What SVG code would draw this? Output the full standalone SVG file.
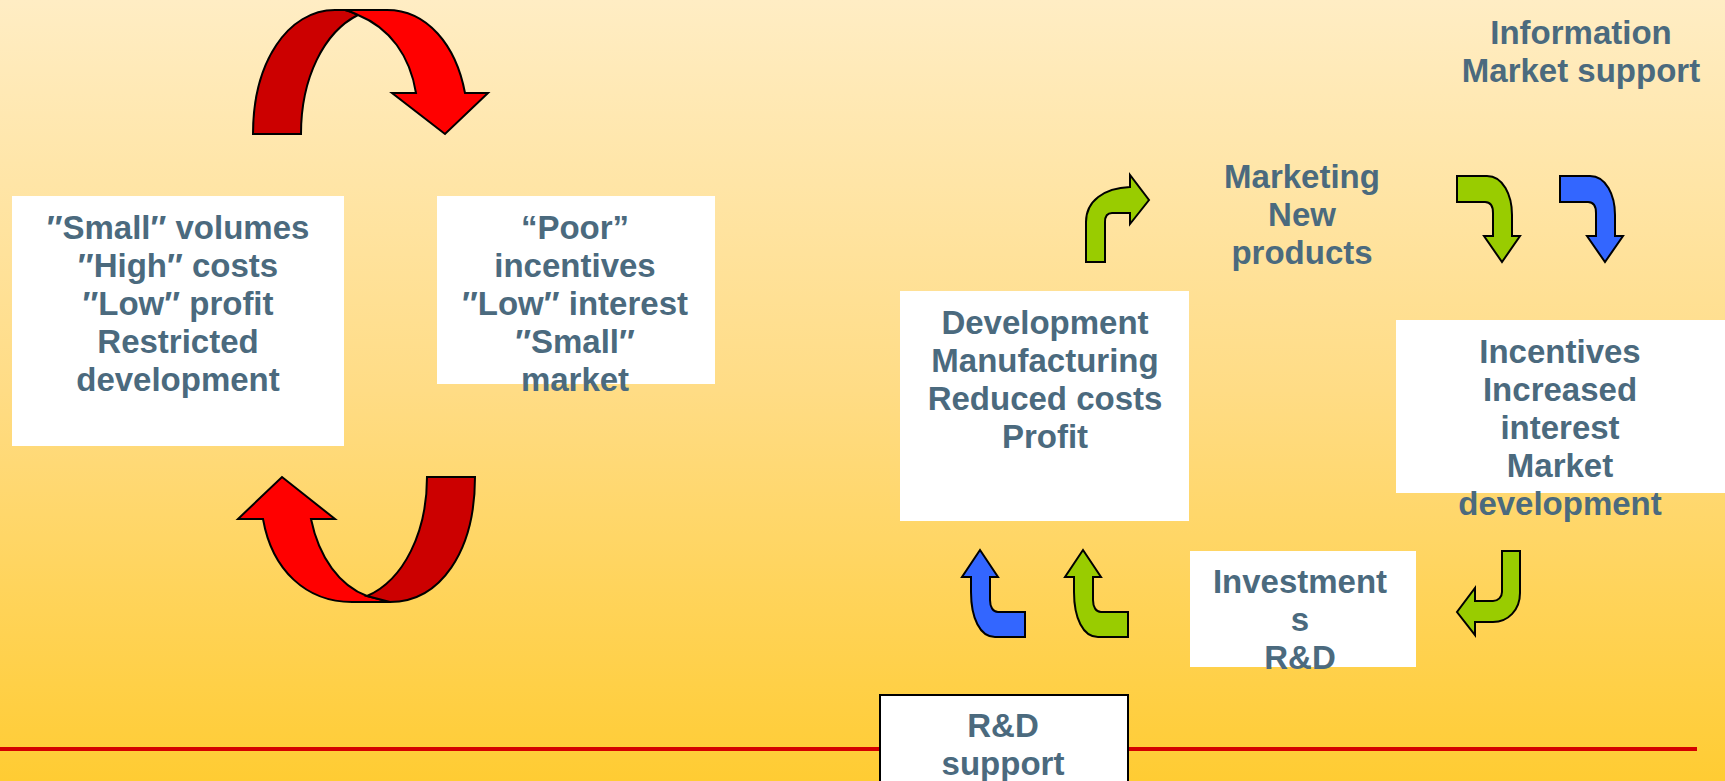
<svg xmlns="http://www.w3.org/2000/svg" width="1725" height="781" viewBox="0 0 1725 781">
<defs>
<linearGradient id="bg" x1="0" y1="0" x2="0" y2="1">
<stop offset="0" stop-color="#FFEDC4"/>
<stop offset="0.5" stop-color="#FFDC85"/>
<stop offset="1" stop-color="#FFCC33"/>
</linearGradient>
<style>
.box{fill:#FFFFFF;}
.t{font-family:"Liberation Sans",Arial,sans-serif;font-weight:bold;font-size:33px;fill:#4B6A7E;text-anchor:middle;}
.ar{stroke:#000000;stroke-width:2;stroke-linejoin:miter;}
.g{fill:#99CC00;}
.b{fill:#3366FF;}
.r{fill:#FF0000;}
.dr{fill:#CC0000;}
</style>
</defs>
<rect x="0" y="0" width="1725" height="781" fill="url(#bg)"/>
<line x1="0" y1="749" x2="1697" y2="749" stroke="#D40000" stroke-width="4"/>

<g id="connectors">
<!-- top red curved arrow -->
<path class="ar dr" d="M253,134 C253,62 288,10 335,10 L345,10 C350,11 354,13 358,15 C324,32 301,78 301,134 Z"/>
<path class="ar r" d="M345,10 L387,10 C427,10 456,45 465,93 L488,93 L445,134 L392,93 L416,93 C410,56 390,28 358,15 C354,13 350,11 345,10 Z"/>
<!-- bottom red curved arrow -->
<path class="ar r" d="M263,519 L238,519 L282,477 L335,519 L311,519 C319,558 340,586 367,596 L390,602 L352,602 C306,602 272,570 263,519 Z"/>
<path class="ar dr" d="M427,477 L475,477 C475,552 440,602 390,602 L367,596 C404,580 427,532 427,477 Z"/>
<!-- green up-right -->
<path class="ar g" d="M1086,262 L1086,222 C1086,201 1104,188 1130,187 L1130,175 L1149,200 L1130,224 L1130,213 L1112,213 C1107,213 1105,217 1105,222 L1105,262 Z"/>
<!-- green down -->
<path class="ar g" d="M1457,176 L1487,176 C1503,176 1512,195 1512,215 L1512,236 L1520,236 L1502,262 L1484,236 L1493,236 L1493,213 C1493,206 1490,202 1485,202 L1457,202 Z"/>
<!-- blue down -->
<path class="ar b" d="M1560,176 L1590,176 C1606,176 1615,195 1615,215 L1615,236 L1623,236 L1605,262 L1587,236 L1596,236 L1596,213 C1596,206 1593,202 1588,202 L1560,202 Z"/>
<!-- green bottom right (left pointing) -->
<path class="ar g" d="M1502,551 L1520,551 L1520,593 C1520,610 1508,622 1493,622 L1475,622 L1475,635 L1457,612 L1475,588 L1475,601 L1493,601 C1498,601 1502,597 1502,592 Z"/>
<!-- blue up -->
<path class="ar b" d="M980,550 L998,577 L990,577 L990,600 C990,607 993,612 998,612 L1025,612 L1025,637 L995,637 C980,637 971,618 971,592 L971,577 L962,577 Z"/>
<!-- green up -->
<path class="ar g" d="M1083,550 L1101,577 L1093,577 L1093,600 C1093,607 1096,612 1101,612 L1128,612 L1128,637 L1098,637 C1083,637 1074,618 1074,592 L1074,577 L1065,577 Z"/>
</g>

<g id="node-small-volumes">
<rect class="box" x="12" y="196" width="332" height="250"/>
<text class="t" x="178" y="239">″Small″ volumes</text>
<text class="t" x="178" y="277">″High″ costs</text>
<text class="t" x="178" y="315">″Low″ profit</text>
<text class="t" x="178" y="353">Restricted</text>
<text class="t" x="178" y="391">development</text>
</g>

<g id="node-poor-incentives">
<rect class="box" x="437" y="196" width="278" height="188"/>
<text class="t" x="575" y="239">“Poor”</text>
<text class="t" x="575" y="277">incentives</text>
<text class="t" x="575" y="315">″Low″ interest</text>
<text class="t" x="575" y="353">″Small″</text>
<text class="t" x="575" y="391">market</text>
</g>

<g id="node-development">
<rect class="box" x="900" y="291" width="289" height="230"/>
<text class="t" x="1045" y="334">Development</text>
<text class="t" x="1045" y="372">Manufacturing</text>
<text class="t" x="1045" y="410">Reduced costs</text>
<text class="t" x="1045" y="448">Profit</text>
</g>

<g id="node-marketing">
<text class="t" x="1302" y="188">Marketing</text>
<text class="t" x="1302" y="226">New</text>
<text class="t" x="1302" y="264">products</text>
</g>

<g id="node-information">
<text class="t" x="1581" y="44">Information</text>
<text class="t" x="1581" y="82">Market support</text>
</g>

<g id="node-incentives">
<rect class="box" x="1396" y="320" width="329" height="173"/>
<text class="t" x="1560" y="363">Incentives</text>
<text class="t" x="1560" y="401">Increased</text>
<text class="t" x="1560" y="439">interest</text>
<text class="t" x="1560" y="477">Market</text>
<text class="t" x="1560" y="515">development</text>
</g>

<g id="node-investments">
<rect class="box" x="1190" y="551" width="226" height="116"/>
<text class="t" x="1300" y="593">Investment</text>
<text class="t" x="1300" y="631">s</text>
<text class="t" x="1300" y="669">R&amp;D</text>
</g>

<g id="node-rd-support">
<rect class="box" x="880" y="695" width="248" height="90" stroke="#000000" stroke-width="2"/>
<text class="t" x="1003" y="737">R&amp;D</text>
<text class="t" x="1003" y="775">support</text>
</g>
</svg>
